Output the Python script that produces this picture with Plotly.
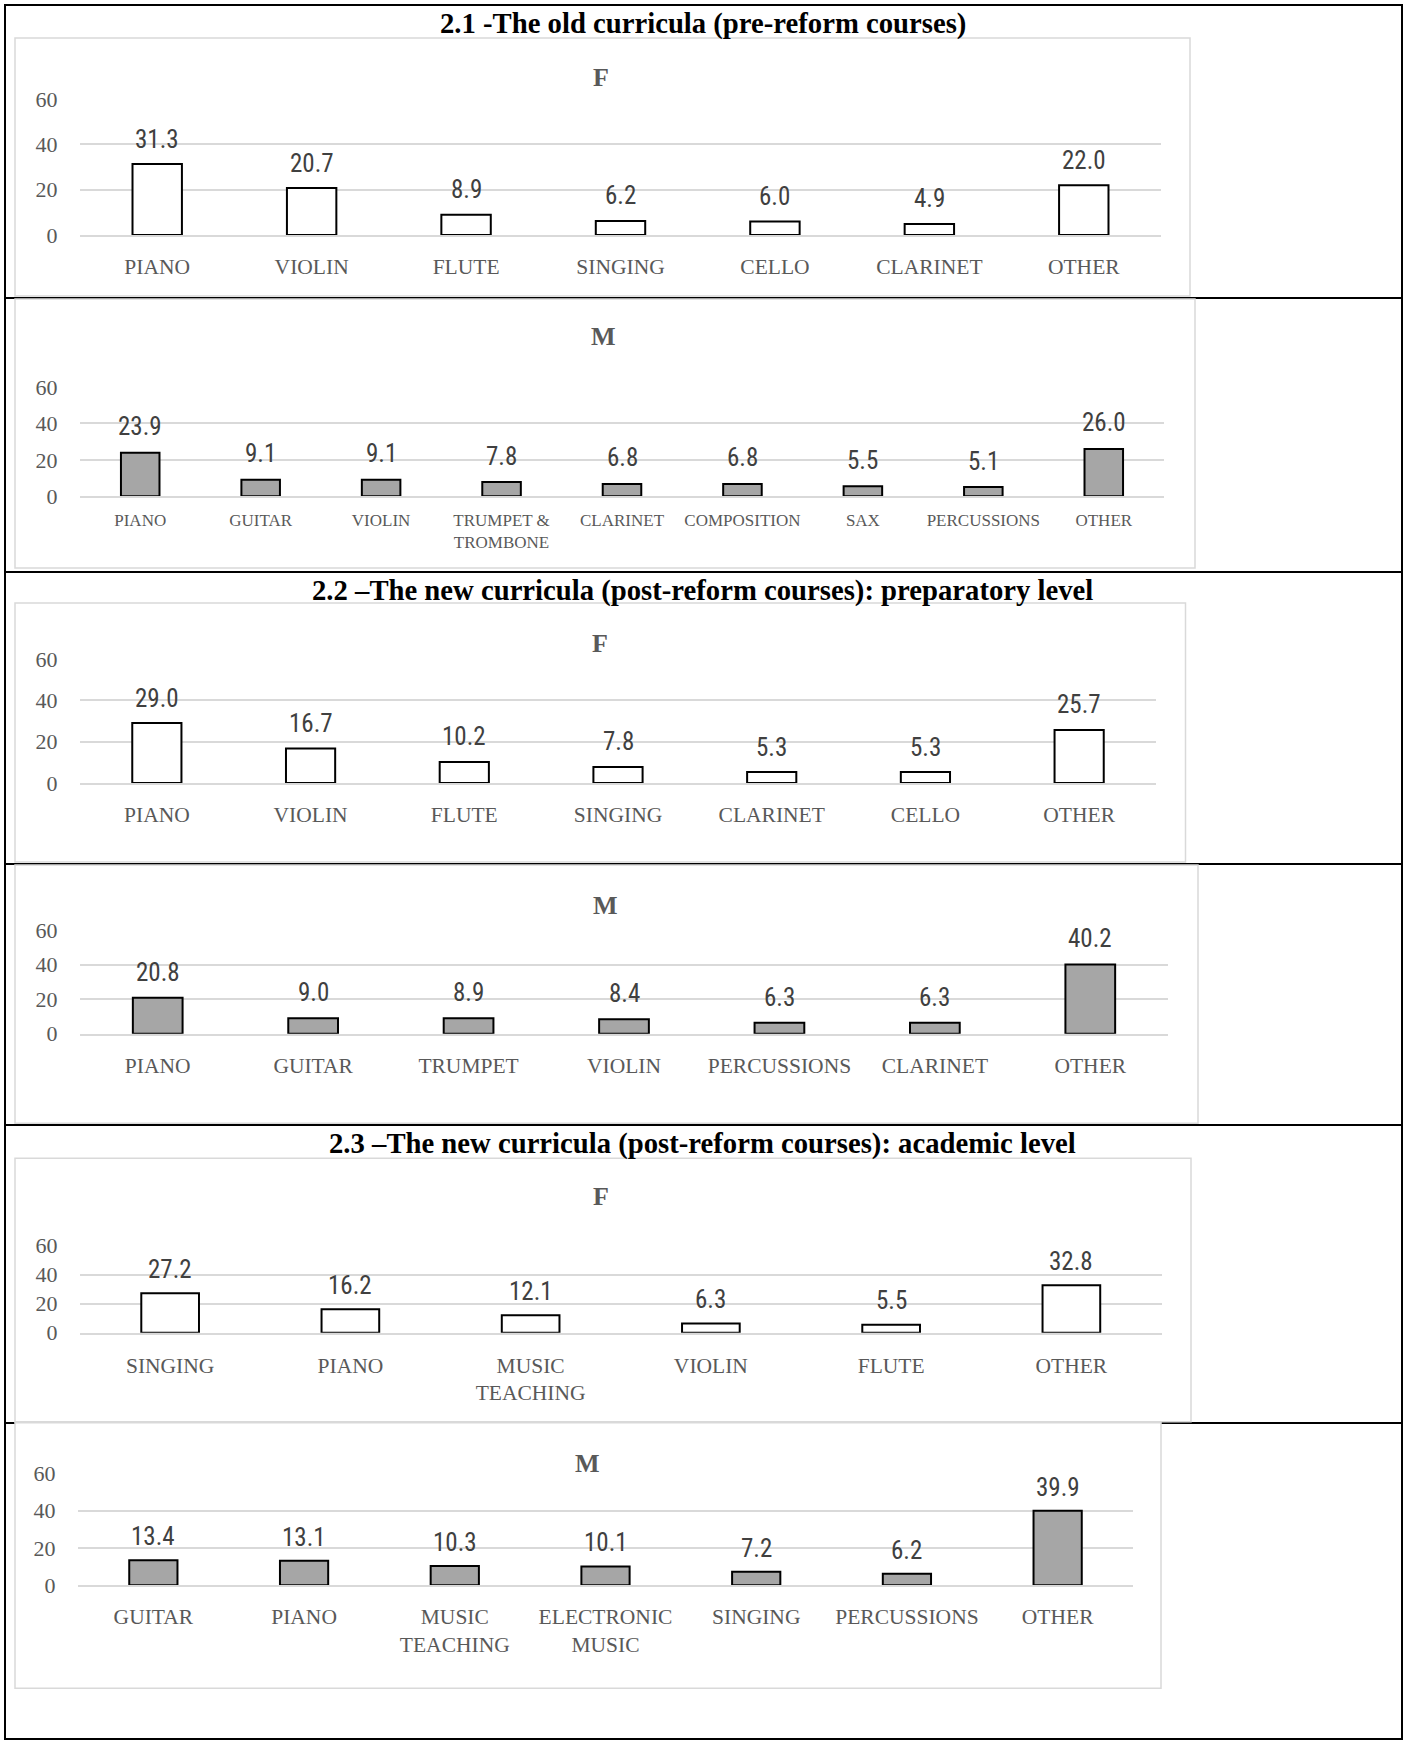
import plotly.graph_objects as go

W, H = 1405, 1741

# ---- data -------------------------------------------------------------
section_titles = [
    "2.1 -The old curricula (pre-reform courses)",
    "2.2 \u2013The new curricula (post-reform courses): preparatory level",
    "2.3 \u2013The new curricula (post-reform courses): academic level",
]

f21_cats = ["PIANO", "VIOLIN", "FLUTE", "SINGING", "CELLO", "CLARINET", "OTHER"]
f21_vals = [31.3, 20.7, 8.9, 6.2, 6.0, 4.9, 22.0]

m21_cats = ["PIANO", "GUITAR", "VIOLIN", "TRUMPET &<br>TROMBONE", "CLARINET",
            "COMPOSITION", "SAX", "PERCUSSIONS", "OTHER"]
m21_vals = [23.9, 9.1, 9.1, 7.8, 6.8, 6.8, 5.5, 5.1, 26.0]

f22_cats = ["PIANO", "VIOLIN", "FLUTE", "SINGING", "CLARINET", "CELLO", "OTHER"]
f22_vals = [29.0, 16.7, 10.2, 7.8, 5.3, 5.3, 25.7]

m22_cats = ["PIANO", "GUITAR", "TRUMPET", "VIOLIN", "PERCUSSIONS", "CLARINET", "OTHER"]
m22_vals = [20.8, 9.0, 8.9, 8.4, 6.3, 6.3, 40.2]

f23_cats = ["SINGING", "PIANO", "MUSIC<br>TEACHING", "VIOLIN", "FLUTE", "OTHER"]
f23_vals = [27.2, 16.2, 12.1, 6.3, 5.5, 32.8]

m23_cats = ["GUITAR", "PIANO", "MUSIC<br>TEACHING", "ELECTRONIC<br>MUSIC", "SINGING",
            "PERCUSSIONS", "OTHER"]
m23_vals = [13.4, 13.1, 10.3, 10.1, 7.2, 6.2, 39.9]

y_ticks = [0, 20, 40, 60]

# ---- styling ----------------------------------------------------------
SERIF = "Liberation Serif, Times New Roman, serif"
NARROW = "Liberation Sans Narrow, Roboto Condensed, Liberation Sans, sans-serif"
GREY_TXT = "#595959"
GRID = "#D9D9D9"
F_FILL = "#FFFFFF"
M_FILL = "#A6A6A6"

# Pixel layout of each panel: plot area (x0, x1, y_top, y_zero), frame box,
# panel letter position, tick-label size/offset and value-label lift.
panels = [
    dict(cats=f21_cats, vals=f21_vals, fill=F_FILL, letter="F",
         plot=(80, 1161, 99, 235), box=(15, 1190, 38, 296), letter_xy=(601, 77.5),
         tick=21.5, tlen=11, lift=25),
    dict(cats=m21_cats, vals=m21_vals, fill=M_FILL, letter="M",
         plot=(80, 1164, 387, 496.3), box=(15, 1195, 299, 568), letter_xy=(603, 337),
         tick=17, tlen=7, lift=26),
    dict(cats=f22_cats, vals=f22_vals, fill=F_FILL, letter="F",
         plot=(80, 1156, 659, 783), box=(15, 1185.5, 603, 862), letter_xy=(600, 643.3),
         tick=21.5, tlen=11, lift=25),
    dict(cats=m22_cats, vals=m22_vals, fill=M_FILL, letter="M",
         plot=(80, 1168, 930.3, 1033.7), box=(15, 1198, 865, 1123.3), letter_xy=(605, 905.7),
         tick=21.5, tlen=11, lift=25.5),
    dict(cats=f23_cats, vals=f23_vals, fill=F_FILL, letter="F",
         plot=(80, 1161.5, 1245.7, 1332.7), box=(15, 1191, 1158.3, 1421.7), letter_xy=(601, 1196.7),
         tick=21.5, tlen=12, lift=24),
    dict(cats=m23_cats, vals=m23_vals, fill=M_FILL, letter="M",
         plot=(78, 1133, 1473.3, 1585.3), box=(15, 1161, 1422.7, 1688.3), letter_xy=(587, 1463.3),
         tick=21.5, tlen=11, lift=23.6),
]

section_title_y = [23, 590, 1143.3]
row_rules_y = [298, 572, 864, 1125, 1423]


def px(x):
    return x / W


def py(y):
    return 1 - y / H


fig = go.Figure()
shapes = []
annotations = []

# table frame and row rules (drawn first so the chart frames sit on top)
shapes.append(dict(type="rect", xref="paper", yref="paper", layer="below",
                   x0=px(5), x1=px(1402), y0=py(1739), y1=py(5),
                   line=dict(color="black", width=2), fillcolor="rgba(0,0,0,0)"))
for ry in row_rules_y:
    shapes.append(dict(type="line", xref="paper", yref="paper", layer="below",
                       x0=px(5), x1=px(1402), y0=py(ry), y1=py(ry),
                       line=dict(color="black", width=2)))

for title, ty in zip(section_titles, section_title_y):
    annotations.append(dict(text=title, xref="paper", yref="paper", x=0.5, y=py(ty),
                            xanchor="center", yanchor="middle", showarrow=False,
                            font=dict(family=SERIF, size=28.7, color="black", weight="bold")))

layout_axes = {}
for i, p in enumerate(panels, start=1):
    xa = "x" if i == 1 else f"x{i}"
    ya = "y" if i == 1 else f"y{i}"
    x0, x1, yt, yb = p["plot"]
    bx0, bx1, by0, by1 = p["box"]

    shapes.append(dict(type="rect", xref="paper", yref="paper", layer="below",
                       x0=px(bx0), x1=px(bx1), y0=py(by1), y1=py(by0),
                       line=dict(color=GRID, width=1.5), fillcolor="white"))

    fig.add_trace(go.Bar(
        x=p["cats"], y=p["vals"], width=0.32,
        marker=dict(color=p["fill"], line=dict(color="black", width=2)),
        xaxis=xa, yaxis=ya, showlegend=False, hoverinfo="x+y",
    ))

    for c, v in zip(p["cats"], p["vals"]):
        annotations.append(dict(text=f"{v:.1f}", xref=xa, yref=ya, x=c, y=v,
                                yshift=p["lift"], xanchor="center", yanchor="middle",
                                showarrow=False,
                                font=dict(family=NARROW, size=25, color="#404040")))

    lx, ly = p["letter_xy"]
    annotations.append(dict(text=p["letter"], xref="paper", yref="paper", x=px(lx), y=py(ly),
                            xanchor="center", yanchor="middle", showarrow=False,
                            font=dict(family=SERIF, size=26, color=GREY_TXT, weight="bold")))

    key = "" if i == 1 else str(i)
    layout_axes[f"xaxis{key}"] = dict(
        domain=[px(x0), px(x1)], anchor=ya, type="category", automargin=False,
        showgrid=False, zeroline=False,
        showline=True, linecolor=GRID, linewidth=2, layer="above traces",
        ticks="outside", ticklen=p["tlen"], tickcolor="rgba(0,0,0,0)",
        tickfont=dict(family=SERIF, size=p["tick"], color=GREY_TXT),
        fixedrange=True,
    )
    layout_axes[f"yaxis{key}"] = dict(
        domain=[py(yb), py(yt)], anchor=xa, range=[0, 60], automargin=False,
        tickvals=y_ticks, ticktext=[str(t) for t in y_ticks],
        showgrid=True, gridcolor=GRID, gridwidth=2, zeroline=False, showline=False,
        ticks="outside", ticklen=17, tickcolor="rgba(0,0,0,0)",
        tickfont=dict(family=SERIF, size=22, color=GREY_TXT),
        fixedrange=True,
    )

fig.update_layout(
    width=W, height=H,
    margin=dict(l=0, r=0, t=0, b=0, pad=0, autoexpand=False),
    paper_bgcolor="white", plot_bgcolor="rgba(0,0,0,0)",
    showlegend=False,
    shapes=shapes, annotations=annotations,
    **layout_axes,
)

fig.write_html("out.html", config={"displayModeBar": False})
